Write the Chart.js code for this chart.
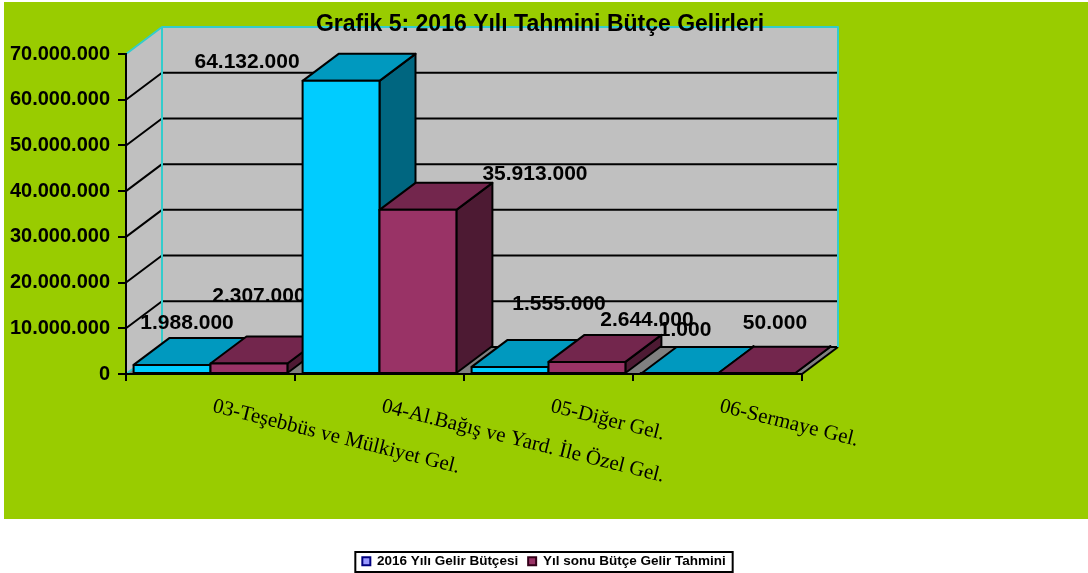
<!DOCTYPE html>
<html>
<head>
<meta charset="utf-8">
<script src="https://cdn.jsdelivr.net/npm/chart.js@4.4.1/dist/chart.umd.min.js"></script>
<style>
  html, body { margin: 0; padding: 0; background: #fff; }
  canvas { display: block; }
</style>
</head>
<body>
<canvas id="gelirChart" width="1088" height="573"></canvas>
<script>
// chart data
const chartTitle = 'Grafik 5: 2016 Yılı Tahmini Bütçe Gelirleri';
const categories = ['03-Teşebbüs ve Mülkiyet Gel.', '04-Al.Bağış ve Yard. İle Özel Gel.', '05-Diğer Gel.', '06-Sermaye Gel.'];
const butce2016 = [1988000, 64132000, 1555000, 1000];
const yilSonuTahmin = [2307000, 35913000, 2644000, 50000];
const seriesNames = ['2016 Yılı Gelir Bütçesi', 'Yıl sonu Bütçe Gelir Tahmini'];
const yMax = 70000000;
const yStep = 10000000;

// look of the 3D columns
const DEPTH_X = 36;
const DEPTH_Y = 27;
const PLOT_BOTTOM = 374;
const faceColors = [
    { front: '#00ccff', top: '#0099bf', side: '#006680' },
    { front: '#993366', top: '#73264d', side: '#4d1a33' }
];
const legendFill = ['#9999ff', '#993366'];
const legendStroke = ['#000080', '#330019'];
// where Excel put each value label, relative to the front top of its bar
const labelNudge = [
    [[15, -42], [-94, -19], [49, -63], [6, -44]],
    [[10, -67], [117, -36], [60, -42], [19, -51]]
];

const FONT = '"Liberation Sans", Arial, sans-serif';
const fmt = n => String(n).replace(/\B(?=(\d{3})+(?!\d))/g, '.');

function poly(ctx, pts, fill) {
    ctx.beginPath();
    ctx.moveTo(pts[0][0], pts[0][1]);
    pts.slice(1).forEach(p => ctx.lineTo(p[0], p[1]));
    ctx.closePath();
    if (fill) {
        ctx.fillStyle = fill;
        ctx.fill();
    }
    ctx.stroke();
}

const background = {
    id: 'background',
    beforeDraw: (chart) => {
        const ctx = chart.ctx;
        ctx.save();
        ctx.fillStyle = '#ffffff';
        ctx.fillRect(0, 0, chart.width, chart.height);
        ctx.fillStyle = '#99cc00';
        ctx.fillRect(4, 2, chart.width - 4, 517);
        ctx.restore();
    }
};

// walls, floor and the 3D columns, drawn back to front
const bars3d = {
    id: 'bars3d',
    beforeDatasetsDraw: (chart) => {
        const { ctx, chartArea: a } = chart;
        const yScale = chart.scales.y;
        const dx = DEPTH_X, dy = DEPTH_Y;
        ctx.save();
        ctx.lineJoin = 'round';

        // left wall + back wall
        ctx.fillStyle = '#c0c0c0';
        ctx.beginPath();
        ctx.moveTo(a.left, a.top);
        ctx.lineTo(a.left + dx, a.top - dy);
        ctx.lineTo(a.left + dx, a.bottom - dy);
        ctx.lineTo(a.left, a.bottom);
        ctx.closePath();
        ctx.fill();
        ctx.fillRect(a.left + dx, a.top - dy, a.width, a.height);

        // floor
        ctx.fillStyle = '#808080';
        ctx.beginPath();
        ctx.moveTo(a.left, a.bottom);
        ctx.lineTo(a.left + dx, a.bottom - dy);
        ctx.lineTo(a.right + dx, a.bottom - dy);
        ctx.lineTo(a.right, a.bottom);
        ctx.closePath();
        ctx.fill();

        // gridlines on both walls
        ctx.strokeStyle = '#000';
        ctx.lineWidth = 2;
        yScale.ticks.forEach(t => {
            if (t.value >= yScale.max) return;
            const py = yScale.getPixelForValue(t.value);
            ctx.beginPath();
            if (t.value > yScale.min) ctx.moveTo(a.left, py);
            else ctx.moveTo(a.left + dx, py - dy);
            ctx.lineTo(a.left + dx, py - dy);
            ctx.lineTo(a.right + dx, py - dy);
            ctx.stroke();
        });
        ctx.beginPath();
        ctx.moveTo(a.right, a.bottom);
        ctx.lineTo(a.right + dx, a.bottom - dy);
        ctx.stroke();

        // cyan wall edges
        ctx.strokeStyle = '#33cccc';
        ctx.beginPath();
        ctx.moveTo(a.left, a.top);
        ctx.lineTo(a.left + dx, a.top - dy);
        ctx.lineTo(a.right + dx, a.top - dy);
        ctx.lineTo(a.right + dx, a.bottom - dy);
        ctx.moveTo(a.left + dx, a.top - dy);
        ctx.lineTo(a.left + dx, a.bottom - dy);
        ctx.moveTo(a.left, a.bottom);
        ctx.lineTo(a.left + dx, a.bottom - dy);
        ctx.stroke();

        // columns and their value labels, category by category
        const metas = chart.data.datasets.map((_, i) => chart.getDatasetMeta(i));
        categories.forEach((_, i) => {
            metas.forEach((meta, d) => {
                const { x, y, base, width } = meta.data[i].getProps(['x', 'y', 'base', 'width'], true);
                const l = x - width / 2, r = x + width / 2;
                const c = faceColors[d];
                ctx.strokeStyle = '#000';
                ctx.lineWidth = 2;
                poly(ctx, [[r, y], [r + dx, y - dy], [r + dx, base - dy], [r, base]], c.side);
                poly(ctx, [[l, y], [l + dx, y - dy], [r + dx, y - dy], [r, y]], c.top);
                poly(ctx, [[l, y], [r, y], [r, base], [l, base]], c.front);
            });
            ctx.fillStyle = '#000';
            ctx.font = 'bold 21px ' + FONT;
            ctx.textAlign = 'center';
            ctx.textBaseline = 'middle';
            metas.forEach((meta, d) => {
                const bar = meta.data[i];
                const value = chart.data.datasets[d].data[i];
                const [nx, ny] = labelNudge[d][i];
                ctx.fillText(fmt(value), bar.x + nx, bar.y + ny);
            });
        });
        ctx.restore();
        return false;
    }
};

// title, slanted category names and the legend frame
const texts = {
    id: 'texts',
    afterDraw: (chart) => {
        const { ctx, chartArea: a } = chart;
        const xScale = chart.scales.x;
        ctx.save();
        ctx.fillStyle = '#000';
        ctx.font = 'bold 23px ' + FONT;
        ctx.textAlign = 'center';
        ctx.textBaseline = 'alphabetic';
        ctx.fillText(chartTitle, 540, 31);

        ctx.font = '21px "Liberation Serif", "Times New Roman", serif';
        ctx.textAlign = 'left';
        ctx.textBaseline = 'top';
        categories.forEach((lbl, i) => {
            ctx.save();
            ctx.translate(xScale.getPixelForValue(i) + 5, a.bottom + 22);
            ctx.rotate(14 * Math.PI / 180);
            ctx.fillText(lbl, 0, 0);
            ctx.restore();
        });

        const boxes = chart.legend.legendHitBoxes;
        if (boxes && boxes.length) {
            const left = Math.min(...boxes.map(b => b.left)) - 7;
            const right = Math.max(...boxes.map(b => b.left + b.width)) + 7;
            ctx.strokeStyle = '#000';
            ctx.lineWidth = 2;
            ctx.strokeRect(left, 552, right - left, 20);
        }
        ctx.restore();
    }
};

const ctx = document.getElementById('gelirChart').getContext('2d');
new Chart(ctx, {
    type: 'bar',
    data: {
        labels: categories,
        datasets: [
            { label: seriesNames[0], data: butce2016, backgroundColor: faceColors[0].front },
            { label: seriesNames[1], data: yilSonuTahmin, backgroundColor: faceColors[1].front }
        ]
    },
    options: {
        responsive: false,
        animation: false,
        devicePixelRatio: 1,
        categoryPercentage: 0.91,
        barPercentage: 1,
        layout: {
            padding: { top: 54, right: 0, left: 0, bottom: -5 }
        },
        scales: {
            x: {
                offset: true,
                ticks: { display: false },
                grid: { offset: true, drawOnChartArea: false, drawTicks: true, tickLength: 7, color: '#000', lineWidth: 2, z: 1 },
                border: { display: true, color: '#000', width: 2, z: 1 },
                afterFit: (s) => {
                    const legendH = s.chart.legend ? s.chart.legend.height : 0;
                    s.height = s.chart.height + 5 - legendH - PLOT_BOTTOM;
                }
            },
            y: {
                min: 0,
                max: yMax,
                ticks: {
                    stepSize: yStep,
                    color: '#000',
                    padding: 8,
                    font: { family: FONT, size: 20, weight: 'bold' },
                    callback: (v) => fmt(v)
                },
                grid: { drawOnChartArea: false, drawTicks: true, tickLength: 8, color: '#000', lineWidth: 2, z: 1 },
                border: { display: true, color: '#000', width: 2, z: 1 },
                afterFit: (s) => { s.width = 126; }
            },
            // empty axis that keeps the green space right of the plot
            yRight: {
                axis: 'y',
                position: 'right',
                ticks: { display: false },
                grid: { display: false, drawTicks: false },
                border: { display: false },
                afterFit: (s) => { s.width = 286; }
            }
        },
        plugins: {
            title: { display: false },
            legend: {
                position: 'bottom',
                labels: {
                    boxWidth: 8,
                    boxHeight: 8,
                    padding: 10,
                    color: '#000',
                    font: { family: FONT, size: 13.5, weight: 'bold' },
                    generateLabels: (chart) => chart.data.datasets.map((ds, i) => ({
                        text: ds.label,
                        fillStyle: legendFill[i],
                        strokeStyle: legendStroke[i],
                        lineWidth: 2,
                        datasetIndex: i
                    }))
                }
            },
            tooltip: { enabled: false }
        }
    },
    plugins: [background, bars3d, texts]
});
</script>
</body>
</html>
